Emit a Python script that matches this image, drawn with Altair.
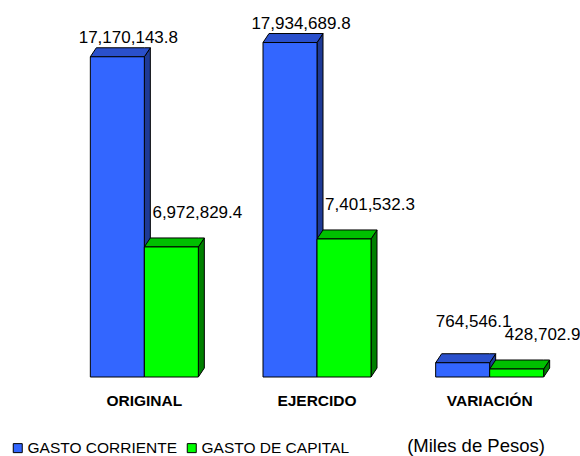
import altair as alt
import pandas as pd

categorias = ["ORIGINAL", "EJERCIDO", "VARIACIÓN"]
series = ["GASTO CORRIENTE", "GASTO DE CAPITAL"]
gasto_corriente = [17170143.8, 17934689.8, 764546.1]
gasto_capital = [6972829.4, 7401532.3, 428702.9]
nota = ["(Miles de Pesos)"]

# layout / style
W, H = 518, 373
YMAX = 20_000_000
PX_PER_VAL = H / YMAX
BAR_W = 54 / (W / 3)
DX = 6 / (W / 3)
DY = 9 / PX_PER_VAL
LIFT = 28 / PX_PER_VAL  # keep blue label clear of the green label next to it
BLUE, BLUE_TOP, BLUE_SIDE = "#3366FF", "#2A50CC", "#1E3A96"
GREEN, GREEN_TOP, GREEN_SIDE = "#00FF00", "#00C000", "#008000"
FONT = "Liberation Sans, Arial, sans-serif"

front_rows, top_rows, side_rows = [], [], []
for i, cat in enumerate(categorias):
    center = i + 0.5
    for j, (serie, vals) in enumerate(zip(series, [gasto_corriente, gasto_capital])):
        v = vals[i]
        x0 = center - BAR_W + j * BAR_W
        x1 = x0 + BAR_W
        bid = f"{cat}-{serie}"
        ly = max(v, gasto_capital[i] + LIFT) if j == 0 else v
        front_rows.append(dict(cat=cat, serie=serie, v=v, x0=x0, x1=x1, xc=(x0 + x1) / 2, ly=ly))
        top_rows += [
            dict(bid=bid, serie=serie, x=x0, lo=v, hi=v),
            dict(bid=bid, serie=serie, x=x0 + DX, lo=v, hi=v + DY),
            dict(bid=bid, serie=serie, x=x1, lo=v, hi=v + DY),
            dict(bid=bid, serie=serie, x=x1 + DX, lo=v + DY, hi=v + DY),
        ]
        side_rows += [
            dict(bid=bid, serie=serie, x=x1, lo=0, hi=v),
            dict(bid=bid, serie=serie, x=x1 + DX, lo=DY, hi=v + DY),
        ]

front_df = pd.DataFrame(front_rows)
top_df = pd.DataFrame(top_rows)
side_df = pd.DataFrame(side_rows)
cat_df = pd.DataFrame({"cat": categorias, "xc": [i + 0.5 for i in range(len(categorias))]})

xs = alt.Scale(domain=[0, 3], nice=False, zero=False)
ys = alt.Scale(domain=[0, YMAX], nice=False)

is_blue = "datum.serie == 'GASTO CORRIENTE'"

side = alt.Chart(side_df).mark_area(stroke="black", strokeWidth=1, interpolate="linear").encode(
    x=alt.X("x:Q", scale=xs, axis=None),
    y=alt.Y("lo:Q", scale=ys, axis=None, stack=None),
    y2="hi:Q",
    detail="bid:N",
    color=alt.condition(is_blue, alt.value(BLUE_SIDE), alt.value(GREEN_SIDE)),
)
top = alt.Chart(top_df).mark_area(stroke="black", strokeWidth=1, interpolate="linear").encode(
    x=alt.X("x:Q", scale=xs, axis=None),
    y=alt.Y("lo:Q", scale=ys, axis=None, stack=None),
    y2="hi:Q",
    detail="bid:N",
    color=alt.condition(is_blue, alt.value(BLUE_TOP), alt.value(GREEN_TOP)),
)
front = alt.Chart(front_df).mark_rect(stroke="black", strokeWidth=1).encode(
    x=alt.X("x0:Q", scale=xs, axis=None),
    x2="x1:Q",
    y=alt.Y("v:Q", scale=ys, axis=None),
    y2=alt.datum(0),
    color=alt.Color(
        "serie:N",
        scale=alt.Scale(domain=series, range=[BLUE, GREEN]),
        legend=alt.Legend(
            title=None, orient="none", direction="horizontal",
            legendX=-48, legendY=436,
            symbolType="square", symbolSize=81, symbolStrokeColor="black",
            symbolStrokeWidth=1, symbolOpacity=1,
            labelFont=FONT, labelFontSize=15.5, labelColor="black",
            labelOffset=2, columnPadding=6, labelLimit=300,
        ),
    ),
)

def value_labels(serie, dx, dy):
    return alt.Chart(front_df).transform_filter(f"datum.serie == '{serie}'").mark_text(
        font=FONT, fontSize=17, color="black", dx=dx, dy=dy, baseline="alphabetic", align="center"
    ).encode(
        x=alt.X("xc:Q", scale=xs, axis=None),
        y=alt.Y("ly:Q", scale=ys, axis=None),
        text=alt.Text("v:Q", format=",.1f"),
    )

lab_blue = value_labels(series[0], 11, -14)
lab_green = value_labels(series[1], 26, -29)

cat_labels = alt.Chart(cat_df).mark_text(
    font=FONT, fontSize=15.5, fontWeight="bold", color="black", dy=29, baseline="alphabetic"
).encode(
    x=alt.X("xc:Q", scale=xs, axis=None),
    y=alt.datum(0),
    text="cat:N",
)

note = alt.Chart(pd.DataFrame({"t": nota})).mark_text(
    font=FONT, fontSize=18.5, color="black", baseline="alphabetic", align="center"
).encode(text="t:N", x=alt.value(418), y=alt.value(448))

chart = alt.layer(side, top, front, lab_blue, lab_green, cat_labels, note).properties(
    width=W, height=H,
    autosize=alt.AutoSizeParams(type="none"),
    padding={"left": 58, "top": 4, "right": 4, "bottom": 79},
    background="white",
).configure_view(stroke=None)

chart.save("out.html", embed_options={"renderer": "svg", "actions": False})
